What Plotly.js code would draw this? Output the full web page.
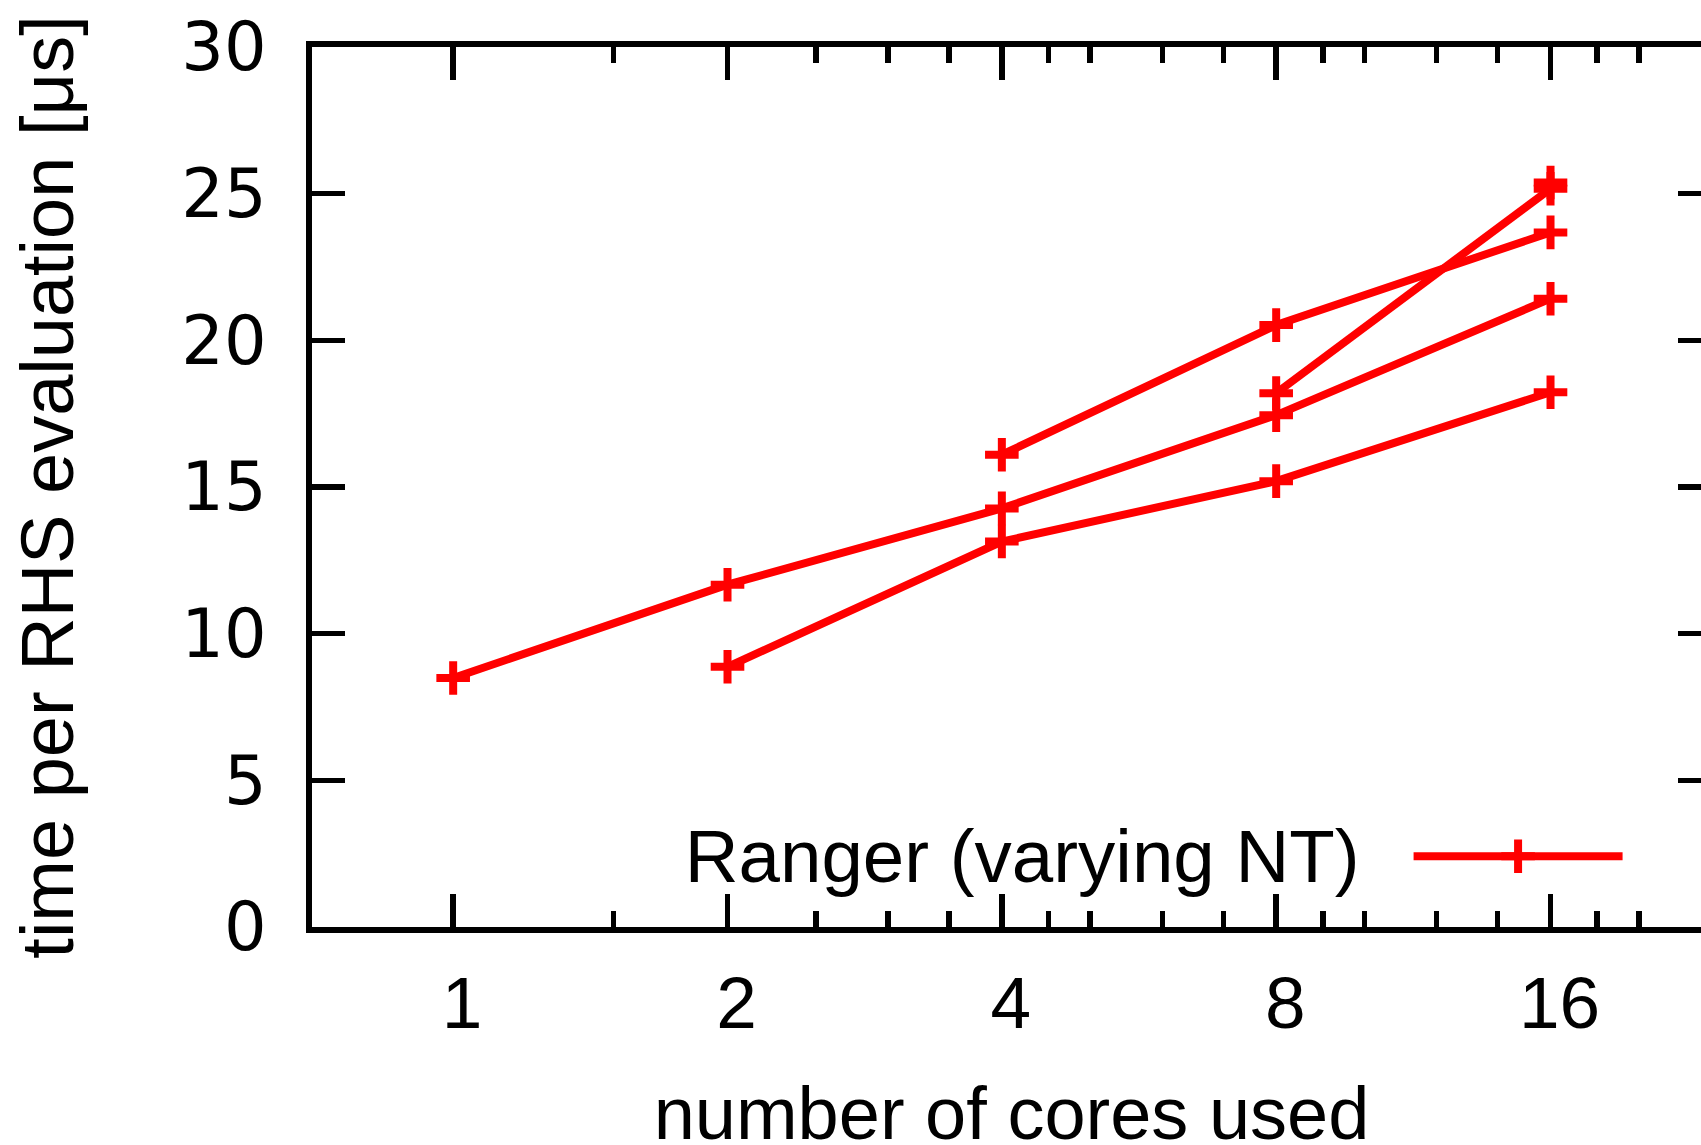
<!DOCTYPE html>
<html>
<head>
<meta charset="utf-8">
<script src="https://cdn.plot.ly/plotly-3.0.1.min.js"></script>
<style>
  html, body { margin: 0; padding: 0; background: #fff; overflow: hidden; width: 1701px; height: 1145px; }
  #plot { width: 1760px; height: 1145px; }
</style>
</head>
<body>
<div id="plot"></div>
<script>
// number of cores used (x) and time per RHS evaluation in microseconds (y)
const coresNT1 = [1, 2, 4, 8, 16];
const timeNT1 = [8.49, 11.67, 14.27, 17.45, 21.42];
const coresNT2 = [2, 4, 8, 16];
const timeNT2 = [8.87, 13.14, 15.2, 18.23];
const coresNT4 = [4, 8, 16];
const timeNT4 = [16.1, 20.52, 23.68];
const coresNT8 = [8, 16];
const timeNT8 = [18.2, 25.17];
const coresNT16 = [16];
const timeNT16 = [25.38];

const xTickVals = [1, 2, 4, 8, 16];
const xTickText = ['1', '2', '4', '8', '16'];
const xMinorVals = [1.5, 2.5, 3, 3.5, 4.5, 5, 6, 7, 9, 10, 12, 14, 18, 20];
const yTickVals = [0, 5, 10, 15, 20, 25, 30];
const legendLabel = 'Ranger (varying NT)';

const red = '#ff0000';
const series = [
  [coresNT1, timeNT1], [coresNT2, timeNT2], [coresNT4, timeNT4],
  [coresNT8, timeNT8], [coresNT16, timeNT16]
];
const traces = series.map((s, i) => ({
  type: 'scatter',
  mode: 'lines+markers',
  x: s[0], y: s[1],
  name: '',
  showlegend: i === 0,
  line: { color: red, width: 8 },
  marker: { symbol: 'cross-thin', size: 24, color: red, line: { color: red, width: 8 } },
  cliponaxis: false
}));

const figW = 1760, figH = 1145;
const plotLeft = 312, plotRight = 1711, plotTop = 47, plotBottom = 927.5;

const layout = {
  width: figW, height: figH,
  margin: { l: plotLeft, r: figW - plotRight, t: plotTop, b: figH - plotBottom, pad: 0 },
  paper_bgcolor: '#fff', plot_bgcolor: '#fff',
  font: { family: 'Liberation Sans, Arial, sans-serif', color: '#000' },
  showlegend: true,
  xaxis: {
    type: 'log',
    range: [Math.log10(0.7), Math.log10(24)],
    tickmode: 'array', tickvals: xTickVals, ticktext: xTickText,
    ticks: 'inside', ticklen: 33, tickwidth: 5.5, tickcolor: '#000',
    showline: true, linewidth: 6, linecolor: '#000', mirror: 'ticks',
    showgrid: false, zeroline: false,
    tickfont: { family: 'Liberation Sans, Arial, sans-serif', size: 73, color: '#000' },
    ticklabelstandoff: 7, ticklabelshift: 9,
    minor: { tickmode: 'array', tickvals: xMinorVals, ticks: 'inside', ticklen: 16, tickwidth: 5.5, tickcolor: '#000', showgrid: false },
    title: { text: 'number of cores used', font: { size: 74, color: '#000' }, standoff: 93 },
    automargin: false, fixedrange: true
  },
  yaxis: {
    range: [0, 30],
    tickmode: 'array', tickvals: yTickVals,
    ticks: 'inside', ticklen: 33, tickwidth: 5.5, tickcolor: '#000',
    showline: true, linewidth: 6, linecolor: '#000', mirror: 'ticks',
    showgrid: false, zeroline: false,
    tickfont: { family: 'DejaVu Sans, sans-serif', size: 67, color: '#000' },
    ticklabelstandoff: 26,
    title: { text: 'time per RHS evaluation [μs]', font: { size: 74, color: '#000' }, standoff: 85 },
    automargin: false, fixedrange: true
  },
  legend: {
    x: 0.265, xanchor: 'left', y: 0.08, yanchor: 'middle',
    bgcolor: 'rgba(0,0,0,0)', borderwidth: 0,
    font: { family: 'Liberation Sans, Arial, sans-serif', size: 74, color: '#000' },
    itemwidth: 262,
    title: { text: legendLabel, side: 'left', font: { family: 'Liberation Sans, Arial, sans-serif', size: 74.5, color: '#000' } }
  }
};

const gd = document.getElementById('plot');
Plotly.newPlot(gd, traces, layout, { displayModeBar: false, staticPlot: true }).then(() => {
  const start = 46, L = 209;
  gd.querySelectorAll('.legend .js-line').forEach(p => p.setAttribute('d', 'M' + start + ',0h' + L));
  const plotPt = gd.querySelector('.scatterlayer .points path.point');
  gd.querySelectorAll('.legend .scatterpts').forEach(p => {
    p.setAttribute('transform', 'translate(' + (start + L / 2) + ',0)');
    if (plotPt) {
      p.setAttribute('d', plotPt.getAttribute('d'));
      p.style.strokeWidth = plotPt.style.strokeWidth;
    }
  });
  gd.querySelectorAll('.legend .legendtitletext').forEach(t => {
    const tr = t.getAttribute('transform') || '';
    t.setAttribute('transform', tr + ' translate(0,-16)');
  });
  gd.querySelectorAll('.g-xtitle text').forEach(t => {
    const tr = t.getAttribute('transform') || '';
    t.setAttribute('transform', tr + ' translate(0,10)');
  });
});
</script>
</body>
</html>
